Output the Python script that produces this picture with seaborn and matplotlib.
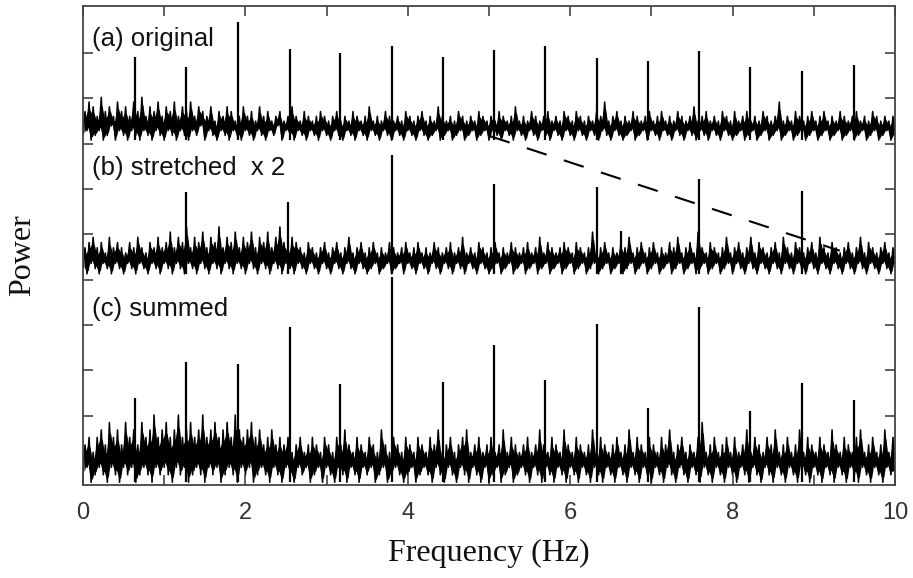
import numpy as np
import pandas as pd
import matplotlib
matplotlib.use("Agg")
import matplotlib.pyplot as plt
import seaborn as sns

# ---------------- data ----------------
# harmonic frequencies of the spikes (Hz)
harmonics = [0.64, 1.27, 1.91, 2.55, 3.17, 3.80, 4.43, 5.06, 5.69, 6.33, 6.96, 7.59, 8.22, 8.86, 9.50]

# (a) original : spike tops (offset power units)
tops_a = [9.92, 9.70, 10.69, 10.09, 10.01, 10.16, 9.92, 10.07, 10.16, 9.90, 9.83, 10.05, 9.70, 9.61, 9.74]
# (b) stretched x2 : spikes at even harmonics (+ one small line)
freq_b = [1.27, 2.53, 3.80, 5.06, 6.33, 6.62, 7.59, 8.86]
tops_b = [6.94, 6.72, 7.75, 7.11, 7.05, 6.08, 7.23, 6.96]
# (c) summed
tops_c = [2.39, 3.19, 3.14, 3.96, 2.70, 5.06, 2.74, 3.56, 2.79, 4.02, 2.17, 4.40, 2.10, 2.72, 2.35]

# panel offsets (noise floor) and noise step per digit
base_a, step_a = 8.08, 0.105
base_b, step_b = 5.13, 0.115
base_c, step_c = 0.53, 0.165

# noise traces (digit levels above the floor), read along frequency 0..10 Hz
noise_a = [
    1,6,2,8,0,7,1,5,2,9,0,6,1,7,3,5,0,8,2,6,1,7,0,5,2,8,1,6,0,9,2,5,1,7,0,6,2,8,1,5,
    0,7,2,6,1,8,0,5,2,7,1,6,0,8,2,5,1,7,3,6,0,5,2,7,1,4,0,6,2,5,1,7,0,6,2,4,1,5,0,7,
    2,5,1,6,0,4,2,7,1,5,0,6,2,4,1,5,3,6,0,4,2,5,1,7,0,5,2,4,1,6,0,5,2,4,1,5,0,6,2,5,
    1,4,0,5,2,6,1,4,0,5,2,4,1,6,0,5,2,4,1,5,0,7,2,4,1,5,0,4,2,6,1,5,0,4,2,5,1,4,0,6,
    2,5,1,4,0,5,2,6,1,4,0,5,1,4,2,7,0,5,1,4,2,5,0,4,1,6,2,5,0,4,1,5,2,4,0,6,1,5,2,4,
    0,5,2,4,1,6,0,5,2,4,1,5,0,7,2,4,1,5,0,4,2,6,1,5,0,4,2,5,1,6,0,4,2,5,1,4,0,6,2,5,
    1,4,0,6,2,5,1,4,0,5,2,4,1,6,0,5,2,8,1,4,0,5,2,6,1,4,0,5,1,4,2,6,0,5,1,4,2,5,0,6,
    2,4,1,5,0,6,2,4,1,5,0,4,2,6,1,5,0,4,2,5,1,7,0,4,2,5,1,6,0,4,2,5,1,4,0,6,2,5,1,4,
    0,6,1,4,2,5,0,6,1,4,2,5,0,4,1,6,2,5,0,4,1,5,2,8,0,4,1,5,2,4,0,6,1,5,2,4,0,5,1,6,
    2,4,0,5,1,6,2,4,0,5,1,4,2,6,0,5,1,4,2,5,0,6,1,4,2,5,0,4,1,6,2,5,0,4,1,5,2,4,0,5,
    1,
]
noise_b = [
    1,5,0,6,2,7,1,5,0,6,2,4,1,7,0,5,2,6,1,5,0,4,2,6,1,5,0,7,2,5,1,4,0,6,2,5,1,7,0,5,
    2,6,1,8,0,5,2,7,1,6,0,9,2,5,1,7,0,6,2,8,1,5,0,7,2,6,1,9,0,5,2,7,1,6,0,8,2,5,1,7,
    0,6,2,8,1,5,0,7,2,6,1,8,0,5,2,7,1,9,0,6,2,5,1,7,0,6,2,5,1,4,0,6,2,5,1,4,0,5,2,6,
    1,4,0,5,2,6,1,4,0,5,2,7,1,4,0,5,2,6,1,4,0,5,1,6,2,4,0,5,1,4,2,6,0,5,1,4,2,5,0,6,
    2,4,1,5,0,6,2,4,1,5,0,4,2,6,1,5,0,4,2,5,1,6,0,4,2,5,1,7,0,4,2,5,1,4,0,6,2,5,1,4,
    0,5,1,6,2,4,0,5,1,4,2,6,0,5,1,4,2,5,0,6,1,4,2,5,0,7,1,4,2,6,0,5,1,4,2,5,0,6,1,5,
    2,4,0,6,1,5,2,4,0,5,1,8,2,4,0,5,1,6,2,4,0,5,1,4,2,6,0,5,1,7,2,4,0,5,1,6,2,4,0,5,
    1,6,2,4,0,5,1,4,2,6,0,5,1,7,2,4,0,5,1,6,2,4,0,8,1,5,2,4,0,6,1,5,2,4,0,5,1,7,2,4,
    0,5,2,6,1,4,0,5,2,7,1,4,0,6,2,5,1,4,0,5,2,6,1,4,0,7,2,5,1,4,0,6,2,5,1,4,0,5,2,6,
    1,4,0,7,2,5,1,4,0,6,2,5,1,4,0,5,2,6,1,4,0,5,2,7,1,4,0,6,2,5,1,4,0,5,2,6,1,4,0,5,
    2,
]
noise_c = [
    1,5,2,6,0,4,1,6,2,7,1,5,0,8,2,6,1,7,0,5,2,8,1,6,2,7,0,5,1,8,2,6,1,7,0,9,2,6,1,7,
    2,8,1,6,0,7,2,9,1,6,2,7,0,8,1,6,2,7,1,9,0,6,2,7,1,8,2,6,0,7,1,8,2,6,1,9,0,7,2,6,
    1,7,2,8,0,6,1,7,2,5,1,6,0,7,2,5,1,6,0,5,2,6,1,4,0,5,2,6,1,4,2,5,0,6,1,5,2,4,0,6,
    2,5,1,4,0,6,2,5,1,7,0,5,2,4,1,6,0,5,2,4,1,6,2,5,0,4,1,7,2,5,0,4,1,6,2,5,1,4,0,6,
    1,5,2,4,0,6,1,5,2,4,1,6,0,5,2,7,1,4,0,5,2,6,1,4,0,5,2,6,1,7,0,4,2,5,1,6,0,4,2,5,
    0,6,1,4,2,5,0,7,1,4,2,6,0,5,1,4,2,5,1,6,0,4,2,5,1,7,0,5,2,4,1,6,0,5,2,4,1,7,0,5,
    2,4,1,6,0,5,2,4,1,5,0,7,2,4,1,6,0,5,2,4,1,5,0,6,2,4,1,5,0,7,2,4,1,6,0,5,2,4,1,6,
    0,5,2,4,1,6,0,5,2,7,1,4,0,5,2,6,1,4,0,5,2,4,1,6,0,8,2,4,1,5,0,6,2,4,1,5,0,6,2,4,
    1,6,0,4,2,5,1,7,0,4,2,6,1,5,0,4,2,6,1,5,0,7,2,4,1,5,0,6,2,4,1,5,0,7,2,4,1,6,0,5,
    2,4,1,6,0,5,2,4,1,7,0,5,2,4,1,6,0,5,2,4,1,6,0,7,2,4,1,5,0,6,2,4,1,5,0,7,2,4,1,6,
    1,
]

# dashed guide line (start/end in data units)
dash_x = [5.01, 9.32]
dash_y = [8.17, 5.64]

labels = ["(a) original", "(b) stretched  x 2", "(c) summed"]
label_y = [10.32, 7.47, 4.36]
xtick_vals = list(range(0, 11))
xtick_text = ["0", "", "2", "", "4", "", "6", "", "8", "", "10"]

# ---------------- plotting ----------------
sns.set_theme(style="ticks")
plt.rcParams["font.family"] = ["Liberation Sans", "DejaVu Sans"]

fig = plt.figure(figsize=(9.13, 5.78), dpi=100)
ax = fig.add_axes([83 / 913, 1 - 485 / 578, (895 - 83) / 913, (485 - 6) / 578])

for noise, base, step in [(noise_a, base_a, step_a), (noise_b, base_b, step_b), (noise_c, base_c, step_c)]:
    n = np.asarray(noise, dtype=float)
    freq = np.linspace(0, 10, len(n))
    power = base + step * n
    # solid core of the unresolved noise (between neighbouring samples);
    # the trace itself supplies the thin spiky edges
    lo = np.minimum(power[:-1], power[1:])
    hi = np.maximum(power[:-1], power[1:])
    mid = 0.5 * (freq[:-1] + freq[1:])
    ax.fill_between(mid, 0.9 * lo + 0.1 * hi, 0.22 * lo + 0.78 * hi, color="black", lw=0)
    df = pd.DataFrame({"freq": freq, "power": power})
    sns.lineplot(data=df, x="freq", y="power", ax=ax, color="black", lw=1.15,
                 estimator=None, sort=False)

ax.vlines(harmonics, base_a, tops_a, color="black", lw=1.6)
ax.vlines(freq_b, base_b, tops_b, color="black", lw=1.6)
ax.vlines(harmonics, base_c, tops_c, color="black", lw=1.6)

ax.plot(dash_x, dash_y, color="black", lw=1.5, ls=(0, (10, 8.7)))

for txt, yy in zip(labels, label_y):
    ax.text(0.11, yy, txt, fontsize=18.5, va="center", ha="left", color="#111111")

ax.set_xlim(0, 10)
ax.set_ylim(0.47, 11.04)
ax.set_xticks(xtick_vals)
ax.set_xticklabels(xtick_text)
ax.set_yticks(range(1, 11))
ax.set_yticklabels([])
ax.tick_params(direction="in", top=True, right=True, length=7, width=1.2,
               color="#444444", labelsize=17, pad=12, labelcolor="#333333")
for sp in ax.spines.values():
    sp.set_color("#444444")
    sp.set_linewidth(1.3)

ax.set_xlabel("Frequency (Hz)", fontsize=23, family=["Liberation Serif"], color="#111111")
ax.xaxis.set_label_coords(0.5, -0.113)
ax.set_ylabel("Power", fontsize=23, family=["Liberation Serif"], color="#111111")
ax.yaxis.set_label_coords(-0.057, 0.48)

fig.savefig("out.png", dpi=100)
